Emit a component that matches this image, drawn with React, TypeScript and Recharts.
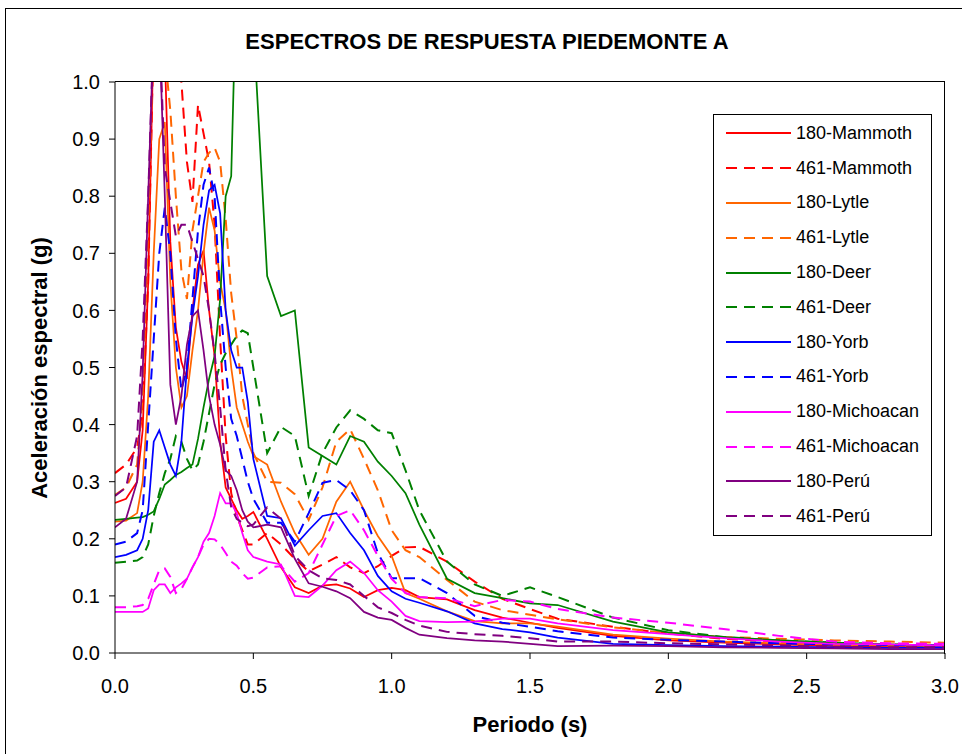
import { LineChart, Line, XAxis, YAxis } from "recharts";

// periodos (s)
const periods = [
  0, 0.04, 0.08, 0.1, 0.12, 0.14, 0.16, 0.18, 0.2, 0.22, 0.24, 0.26, 0.28, 0.3, 0.32, 0.34,
  0.36, 0.38, 0.4, 0.42, 0.44, 0.46, 0.48, 0.5, 0.55, 0.6, 0.65, 0.7, 0.75, 0.8, 0.85, 0.9,
  0.95, 1.0, 1.05, 1.1, 1.2, 1.3, 1.4, 1.5, 1.6, 1.8, 2.0, 2.2, 2.4, 2.6, 2.8, 3.0,
];

// aceleracion espectral (g)
const mammoth180 = [
  0.263, 0.27, 0.3, 0.39, 0.65, 1.1, 1.1, 1.05, 0.72, 0.57, 0.51, 0.48, 0.6, 0.68, 0.705, 0.6,
  0.52, 0.37, 0.29, 0.27, 0.25, 0.235, 0.24, 0.247, 0.2, 0.15, 0.115, 0.105, 0.118, 0.12, 0.113, 0.098,
  0.11, 0.114, 0.11, 0.098, 0.094, 0.075, 0.062, 0.053, 0.044, 0.03, 0.022, 0.018, 0.015, 0.012, 0.011, 0.01,
];
const mammoth461 = [
  0.315, 0.33, 0.36, 0.42, 0.65, 1.1, 1.1, 1.1, 1.1, 1.05, 1.0, 0.86, 0.79, 0.96, 0.91, 0.86,
  0.75, 0.55, 0.38, 0.28, 0.24, 0.215, 0.19, 0.19, 0.21, 0.19, 0.165, 0.143, 0.155, 0.168, 0.15, 0.14,
  0.152, 0.17, 0.185, 0.186, 0.16, 0.125, 0.095, 0.077, 0.06, 0.046, 0.034, 0.025, 0.02, 0.016, 0.014, 0.012,
];
const lytle180 = [
  0.23, 0.232, 0.245, 0.3, 0.45, 0.7, 0.9, 0.93, 0.65, 0.5, 0.43, 0.45, 0.53, 0.6, 0.7, 0.78,
  0.74, 0.65, 0.6, 0.5, 0.43, 0.4, 0.37, 0.345, 0.33, 0.265, 0.21, 0.172, 0.2, 0.265, 0.3, 0.25,
  0.205, 0.17, 0.105, 0.095, 0.073, 0.056, 0.052, 0.052, 0.046, 0.032, 0.025, 0.02, 0.017, 0.015, 0.013, 0.012,
];
const lytle461 = [
  0.277, 0.29, 0.33, 0.45, 0.75, 1.1, 1.1, 1.05, 0.95, 0.8, 0.67, 0.62, 0.74, 0.8, 0.86, 0.876,
  0.885, 0.86, 0.76, 0.63, 0.55, 0.45, 0.4, 0.35, 0.3, 0.298, 0.278, 0.233, 0.29, 0.37, 0.392, 0.34,
  0.285, 0.215, 0.18, 0.168, 0.128, 0.09, 0.075, 0.067, 0.059, 0.045, 0.035, 0.028, 0.025, 0.022, 0.02, 0.018,
];
const deer180 = [
  0.233, 0.235, 0.237, 0.238, 0.242, 0.248, 0.27, 0.295, 0.303, 0.312, 0.317, 0.324, 0.33, 0.375, 0.43, 0.48,
  0.52, 0.62, 0.8, 0.835, 1.2, 1.2, 1.2, 1.1, 0.66, 0.59, 0.6, 0.36, 0.345, 0.33, 0.38, 0.37,
  0.335, 0.31, 0.28, 0.225, 0.13, 0.105, 0.096, 0.087, 0.084, 0.055, 0.036, 0.028, 0.022, 0.018, 0.015, 0.013,
];
const deer461 = [
  0.158, 0.16, 0.162, 0.168, 0.19, 0.24, 0.28, 0.315, 0.34, 0.38, 0.37, 0.34, 0.32, 0.33, 0.37, 0.42,
  0.47, 0.505, 0.525, 0.54, 0.555, 0.565, 0.56, 0.5, 0.35, 0.396, 0.38, 0.275, 0.35, 0.395, 0.425, 0.41,
  0.39, 0.385, 0.32, 0.25, 0.16, 0.12, 0.1, 0.115, 0.098, 0.062, 0.04, 0.028, 0.022, 0.018, 0.015, 0.013,
];
const yorb180 = [
  0.168, 0.172, 0.18, 0.2, 0.25, 0.37, 0.39, 0.36, 0.33, 0.31, 0.37, 0.5, 0.59, 0.66, 0.75, 0.81,
  0.82, 0.77, 0.6, 0.53, 0.5, 0.5, 0.44, 0.34, 0.24, 0.236, 0.188, 0.215, 0.24, 0.245, 0.21, 0.18,
  0.135, 0.108, 0.095, 0.088, 0.073, 0.052, 0.042, 0.036, 0.027, 0.016, 0.014, 0.012, 0.011, 0.01, 0.009, 0.009,
];
const yorb461 = [
  0.19, 0.195, 0.21, 0.25, 0.4, 0.55, 0.7, 0.78, 0.7, 0.55, 0.46, 0.5, 0.62, 0.74, 0.82, 0.85,
  0.8, 0.62, 0.5, 0.41, 0.38, 0.34, 0.3, 0.27, 0.228, 0.228, 0.195, 0.245, 0.298, 0.303, 0.285, 0.25,
  0.175, 0.131, 0.131, 0.131, 0.105, 0.065, 0.053, 0.046, 0.038, 0.027, 0.023, 0.02, 0.017, 0.015, 0.014, 0.013,
];
const michoacan180 = [
  0.072, 0.072, 0.072, 0.072, 0.078, 0.11, 0.12, 0.12, 0.105, 0.115, 0.122, 0.13, 0.15, 0.168, 0.195, 0.21,
  0.24, 0.28, 0.262, 0.262, 0.245, 0.21, 0.18, 0.168, 0.16, 0.155, 0.1, 0.098, 0.118, 0.145, 0.16, 0.14,
  0.11, 0.09, 0.065, 0.056, 0.054, 0.055, 0.06, 0.06, 0.052, 0.04, 0.033, 0.026, 0.02, 0.016, 0.015, 0.013,
];
const michoacan461 = [
  0.08, 0.08, 0.082, 0.084, 0.095, 0.12, 0.145, 0.148, 0.133, 0.105, 0.112, 0.13, 0.15, 0.168, 0.19, 0.2,
  0.199, 0.19, 0.175, 0.16, 0.153, 0.14, 0.13, 0.132, 0.15, 0.152, 0.125, 0.14, 0.19, 0.24, 0.25, 0.215,
  0.17, 0.13, 0.105, 0.098, 0.096, 0.082, 0.093, 0.09, 0.077, 0.062, 0.053, 0.042, 0.03, 0.02, 0.017, 0.016,
];
const peru180 = [
  0.22, 0.235, 0.3, 0.49, 0.8, 1.1, 1.1, 0.8, 0.47, 0.4, 0.45, 0.54, 0.59, 0.6, 0.53, 0.45,
  0.4, 0.365, 0.32, 0.31, 0.285, 0.25, 0.23, 0.22, 0.225, 0.22, 0.165, 0.122, 0.116, 0.108, 0.096, 0.072,
  0.062, 0.058, 0.044, 0.032, 0.026, 0.022, 0.02, 0.016, 0.012, 0.013, 0.012, 0.01, 0.009, 0.008, 0.007, 0.007,
];
const peru461 = [
  0.275, 0.29, 0.38, 0.55, 0.8, 1.1, 1.1, 0.85, 0.79, 0.73, 0.75, 0.75, 0.72, 0.69, 0.66, 0.6,
  0.525, 0.43, 0.32, 0.255, 0.235, 0.228, 0.222, 0.225, 0.255, 0.235, 0.17, 0.145, 0.131, 0.128, 0.12, 0.1,
  0.08, 0.07, 0.058, 0.048, 0.037, 0.033, 0.03, 0.026, 0.02, 0.02, 0.017, 0.015, 0.013, 0.011, 0.01, 0.01,
];

const xTicks = [0, 0.5, 1, 1.5, 2, 2.5, 3];
const yTicks = [0, 0.1, 0.2, 0.3, 0.4, 0.5, 0.6, 0.7, 0.8, 0.9, 1];

const series = [
  { name: "180-Mammoth", values: mammoth180, color: "#FF0000", dashed: false },
  { name: "461-Mammoth", values: mammoth461, color: "#FF0000", dashed: true },
  { name: "180-Lytle", values: lytle180, color: "#FF6600", dashed: false },
  { name: "461-Lytle", values: lytle461, color: "#FF6600", dashed: true },
  { name: "180-Deer", values: deer180, color: "#008000", dashed: false },
  { name: "461-Deer", values: deer461, color: "#008000", dashed: true },
  { name: "180-Yorb", values: yorb180, color: "#0000FF", dashed: false },
  { name: "461-Yorb", values: yorb461, color: "#0000FF", dashed: true },
  { name: "180-Michoacan", values: michoacan180, color: "#FF00FF", dashed: false },
  { name: "461-Michoacan", values: michoacan461, color: "#FF00FF", dashed: true },
  { name: "180-Perú", values: peru180, color: "#800080", dashed: false },
  { name: "461-Perú", values: peru461, color: "#800080", dashed: true },
];

const rows = periods.map((t, i) => {
  const row: Record<string, number> = { t };
  series.forEach((s) => {
    row[s.name] = s.values[i];
  });
  return row;
});

const FONT = "'Liberation Sans', Arial, sans-serif";
const DASH = "11 7";

// leyenda dibujada a mano, encima del area de trazado
const LegendBox = () => (
  <div
    style={{
      position: "absolute",
      left: 713,
      top: 114,
      width: 217,
      height: 419,
      border: "1px solid #000",
      background: "#fff",
      fontSize: 18,
      color: "#000",
      paddingTop: 1,
    }}
  >
    {series.map((s) => (
      <div key={s.name} style={{ height: 34.8, display: "flex", alignItems: "center" }}>
        <svg width={82} height={10} style={{ flex: "none" }}>
          <line
            x1={12}
            x2={77}
            y1={5}
            y2={5}
            stroke={s.color}
            strokeWidth={2}
            strokeDasharray={s.dashed ? DASH : undefined}
          />
        </svg>
        <span>{s.name}</span>
      </div>
    ))}
  </div>
);

export default function App() {
  return (
    <div
      style={{
        position: "absolute",
        left: 0,
        top: 0,
        width: 962,
        height: 754,
        overflow: "hidden",
        background: "#fff",
        fontFamily: FONT,
      }}
    >
      {/* marco del grafico */}
      <div
        style={{
          position: "absolute",
          left: 5,
          top: 8,
          width: 990,
          height: 800,
          border: "1px solid #000",
        }}
      />
      <div
        style={{
          position: "absolute",
          left: 0,
          width: 974,
          top: 29,
          textAlign: "center",
          fontWeight: "bold",
          fontSize: 22,
        }}
      >
        ESPECTROS DE RESPUESTA PIEDEMONTE A
      </div>
      <div style={{ position: "absolute", left: 0, top: 0 }}>
        <LineChart
          width={962}
          height={754}
          data={rows}
          margin={{ top: 82, right: 17, bottom: 71, left: 55 }}
        >
          <XAxis
            dataKey="t"
            type="number"
            domain={[0, 3]}
            ticks={xTicks}
            allowDataOverflow
            tickFormatter={(v: number) => v.toFixed(1)}
            tick={{ fill: "#000", fontSize: 20, fontFamily: FONT }}
            tickSize={6}
            tickMargin={20}
            axisLine={{ stroke: "#000" }}
            tickLine={{ stroke: "#000" }}
            height={30}
          />
          <YAxis
            type="number"
            domain={[0, 1]}
            ticks={yTicks}
            allowDataOverflow
            tickFormatter={(v: number) => v.toFixed(1)}
            tick={{ fill: "#000", fontSize: 20, fontFamily: FONT }}
            tickSize={6}
            tickMargin={9}
            axisLine={{ stroke: "#000" }}
            tickLine={{ stroke: "#000" }}
            width={60}
          />
          {series.map((s) => (
            <Line
              key={s.name}
              type="linear"
              dataKey={s.name}
              stroke={s.color}
              strokeWidth={s.dashed ? 2 : 1.75}
              strokeDasharray={s.dashed ? DASH : undefined}
              dot={false}
              isAnimationActive={false}
            />
          ))}
        </LineChart>
      </div>
      {/* borde superior y derecho del area de trazado */}
      <div
        style={{
          position: "absolute",
          left: 115,
          top: 81,
          width: 829,
          height: 572,
          borderTop: "1px solid #000",
          borderRight: "1px solid #000",
          pointerEvents: "none",
        }}
      />
      <LegendBox />
      <div
        style={{
          position: "absolute",
          left: 40,
          top: 368,
          transform: "translate(-50%, -50%) rotate(-90deg)",
          whiteSpace: "nowrap",
          fontWeight: "bold",
          fontSize: 22,
        }}
      >
        Aceleración espectral (g)
      </div>
      <div
        style={{
          position: "absolute",
          left: 530,
          top: 725,
          transform: "translate(-50%, -50%)",
          whiteSpace: "nowrap",
          fontWeight: "bold",
          fontSize: 22,
        }}
      >
        Periodo (s)
      </div>
    </div>
  );
}
